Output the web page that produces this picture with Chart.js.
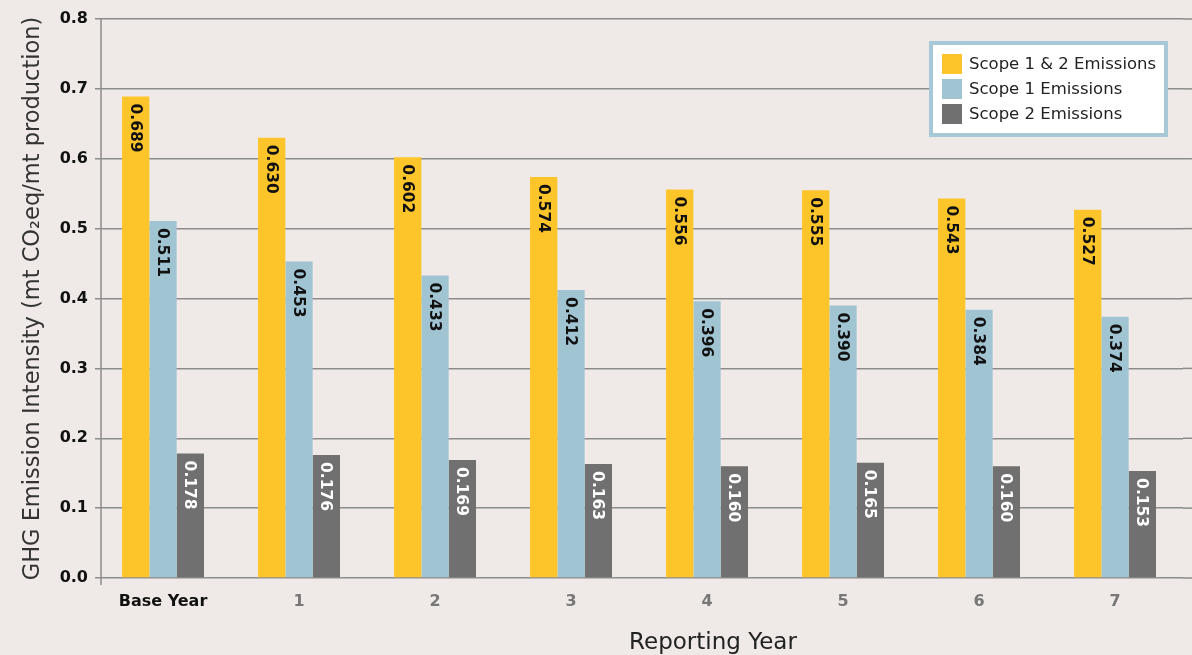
<!DOCTYPE html>
<html>
<head>
<meta charset="utf-8">
<script src="https://cdn.jsdelivr.net/npm/chart.js@4"></script>
<style>
  html, body { margin: 0; padding: 0; background: #efeae7; }
  #wrap { width: 1192px; height: 655px; position: relative; }
</style>
</head>
<body>
<div id="wrap"><canvas id="c" width="1192" height="655"></canvas></div>
<script>
const categories = ['Base Year', '1', '2', '3', '4', '5', '6', '7'];
const scope12 = [0.689, 0.630, 0.602, 0.574, 0.556, 0.555, 0.543, 0.527];
const scope1 = [0.511, 0.453, 0.433, 0.412, 0.396, 0.390, 0.384, 0.374];
const scope2 = [0.178, 0.176, 0.169, 0.163, 0.160, 0.165, 0.160, 0.153];
const seriesNames = ['Scope 1 & 2 Emissions', 'Scope 1 Emissions', 'Scope 2 Emissions'];
const yTitle = 'GHG Emission Intensity (mt CO\u2082eq/mt production)';
const xTitle = 'Reporting Year';

const colors = ['#fdc52a', '#a1c4d3', '#6f706f'];
const labelColors = ['#111', '#111', '#ffffff'];
const FONT = '"DejaVu Sans", sans-serif';

const labelPlugin = {
  id: 'barLabels',
  afterDatasetsDraw(chart) {
    const ctx = chart.ctx;
    chart.data.datasets.forEach((ds, di) => {
      const meta = chart.getDatasetMeta(di);
      meta.data.forEach((bar, i) => {
        ctx.save();
        ctx.translate(bar.x, bar.y + 7);
        ctx.rotate(Math.PI / 2);
        ctx.font = (di === 2 ? '600 ' : 'bold ') + '15.5px ' + FONT;
        ctx.fillStyle = labelColors[di];
        ctx.textAlign = 'left';
        ctx.textBaseline = 'middle';
        ctx.fillText(ds.data[i].toFixed(3), 0, 1);
        ctx.restore();
      });
    });
  }
};

const extrasPlugin = {
  id: 'extras',
  beforeDatasetsDraw(chart) {
    const ctx = chart.ctx;
    const ys = chart.scales.y;
    const a = chart.chartArea;
    ctx.save();
    ctx.strokeStyle = '#8c8c8c';
    ctx.lineWidth = 1.5;
    ys.ticks.forEach((t) => {
      const y = ys.getPixelForValue(t.value);
      ctx.beginPath();
      ctx.moveTo(a.right, y);
      ctx.lineTo(chart.width, y);
      ctx.stroke();
    });
    ctx.beginPath();
    ctx.moveTo(a.left + 6, a.top);
    ctx.lineTo(a.left + 6, a.bottom + 7);
    ctx.stroke();
    ctx.restore();
  },
  afterDraw(chart) {
    const ctx = chart.ctx;
    const a = chart.chartArea;
    ctx.save();
    ctx.font = '23px ' + FONT;
    ctx.fillStyle = '#222';
    ctx.textAlign = 'center';
    ctx.textBaseline = 'middle';
    ctx.fillText(xTitle, a.left + (a.right - a.left) * 0.568, 643);
    const lx = 929, ly = 41, lw = 239, lh = 96;
    ctx.fillStyle = '#ffffff';
    ctx.fillRect(lx, ly, lw, lh);
    ctx.strokeStyle = '#a7c8d6';
    ctx.lineWidth = 4;
    ctx.strokeRect(lx + 2, ly + 2, lw - 4, lh - 4);
    ctx.font = '16.5px ' + FONT;
    ctx.textAlign = 'left';
    chart.data.datasets.forEach((ds, i) => {
      const cy = 64 + i * 25;
      ctx.fillStyle = ds.backgroundColor;
      ctx.fillRect(942, cy - 10, 20, 20);
      ctx.fillStyle = '#222';
      ctx.fillText(ds.label, 969, cy + 1);
    });
    ctx.restore();
  }
};

new Chart(document.getElementById('c'), {
  type: 'bar',
  data: {
    labels: categories,
    datasets: [
      { label: seriesNames[0], data: scope12, backgroundColor: colors[0] },
      { label: seriesNames[1], data: scope1, backgroundColor: colors[1] },
      { label: seriesNames[2], data: scope2, backgroundColor: colors[2] }
    ]
  },
  options: {
    responsive: false,
    animation: false,
    devicePixelRatio: 1,
    layout: { padding: { top: 19, right: 9, left: 0, bottom: 0 } },
    datasets: { bar: { categoryPercentage: 0.603, barPercentage: 1.0 } },
    plugins: { legend: { display: false }, tooltip: { enabled: false } },
    scales: {
      x: {
        grid: { display: false, drawTicks: false },
        border: { display: false },
        afterFit(s) { s.height = 77; },
        ticks: {
          padding: 14,
          font: { family: FONT, size: 16, weight: 'bold' },
          color: (c) => (c.index === 0 ? '#111' : '#777')
        }
      },
      y: {
        min: 0,
        max: 0.8,
        afterFit(s) { s.width = 95; },
        ticks: {
          stepSize: 0.1,
          padding: 7,
          font: { family: FONT, size: 16, weight: 'bold' },
          color: '#111',
          callback: (v) => v.toFixed(1)
        },
        grid: { color: '#8c8c8c', lineWidth: 1.5, drawTicks: false },
        border: { display: false },
        title: {
          display: true,
          text: yTitle,
          color: '#333',
          font: { family: FONT, size: 22.5, weight: 'normal' },
          padding: { top: 20, bottom: 0 }
        }
      }
    }
  },
  plugins: [labelPlugin, extrasPlugin]
});
</script>
</body>
</html>
